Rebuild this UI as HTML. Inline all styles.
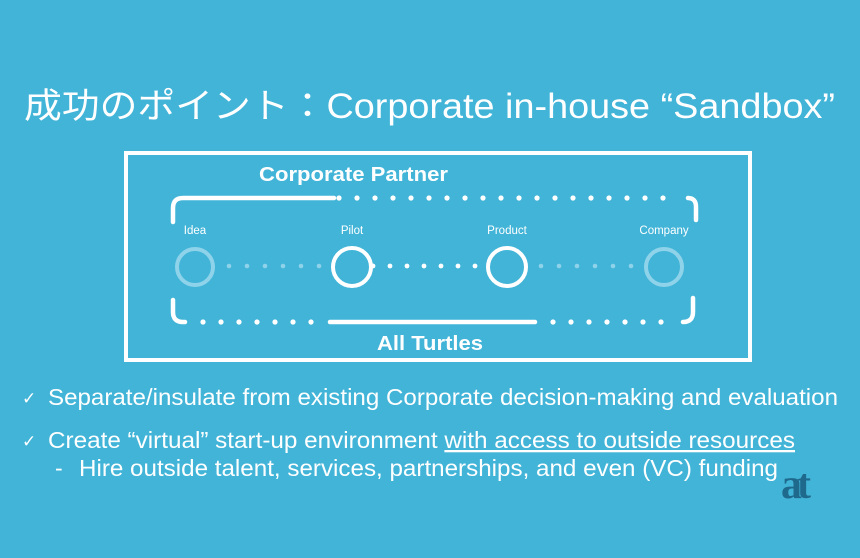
<!DOCTYPE html>
<html><head><meta charset="utf-8"><style>
html,body{margin:0;padding:0;background:#41b4d8;}
svg{display:block}
</style></head><body>
<svg width="860" height="558" viewBox="0 0 860 558" xmlns="http://www.w3.org/2000/svg">
<rect width="860" height="558" fill="#41b4d8"/>
<text x="24" y="118" fill="#fff" font-family="Liberation Sans, Noto Sans CJK JP, sans-serif" font-size="35" textLength="811" lengthAdjust="spacingAndGlyphs">成功のポイント：Corporate in-house “Sandbox”</text>
<rect x="126" y="153" width="624" height="207" fill="none" stroke="#fff" stroke-width="4"/>
<text x="259" y="181" fill="#fff" font-family="Liberation Sans, sans-serif" font-size="20" font-weight="bold" textLength="189" lengthAdjust="spacingAndGlyphs">Corporate Partner</text>
<text x="377" y="350" fill="#fff" font-family="Liberation Sans, sans-serif" font-size="20" font-weight="bold" textLength="106" lengthAdjust="spacingAndGlyphs">All Turtles</text>
<g fill="none" stroke="#fff" stroke-width="4.5" stroke-linecap="round">
<path d="M173 222 V208 Q173 198 183 198 H334"/>
<path d="M173 300 V312 Q173 322 183 322 H185"/>
<path d="M330 322 H535"/>
<path d="M696 220 V207 Q696 198 688 198"/>
<path d="M693 298 V312 Q693 322 683 322"/>
</g>
<g fill="#fff">
<circle cx="339" cy="198" r="2.6"/><circle cx="357" cy="198" r="2.6"/><circle cx="375" cy="198" r="2.6"/><circle cx="393" cy="198" r="2.6"/><circle cx="411" cy="198" r="2.6"/><circle cx="429" cy="198" r="2.6"/><circle cx="447" cy="198" r="2.6"/><circle cx="465" cy="198" r="2.6"/><circle cx="483" cy="198" r="2.6"/><circle cx="501" cy="198" r="2.6"/><circle cx="519" cy="198" r="2.6"/><circle cx="537" cy="198" r="2.6"/><circle cx="555" cy="198" r="2.6"/><circle cx="573" cy="198" r="2.6"/><circle cx="591" cy="198" r="2.6"/><circle cx="609" cy="198" r="2.6"/><circle cx="627" cy="198" r="2.6"/><circle cx="645" cy="198" r="2.6"/><circle cx="663" cy="198" r="2.6"/>
<circle cx="203" cy="322" r="2.6"/><circle cx="221" cy="322" r="2.6"/><circle cx="239" cy="322" r="2.6"/><circle cx="257" cy="322" r="2.6"/><circle cx="275" cy="322" r="2.6"/><circle cx="293" cy="322" r="2.6"/><circle cx="311" cy="322" r="2.6"/>
<circle cx="553" cy="322" r="2.6"/><circle cx="571" cy="322" r="2.6"/><circle cx="589" cy="322" r="2.6"/><circle cx="607" cy="322" r="2.6"/><circle cx="625" cy="322" r="2.6"/><circle cx="643" cy="322" r="2.6"/><circle cx="661" cy="322" r="2.6"/>
<circle cx="373" cy="266" r="2.4"/><circle cx="390" cy="266" r="2.4"/><circle cx="407" cy="266" r="2.4"/><circle cx="424" cy="266" r="2.4"/><circle cx="441" cy="266" r="2.4"/><circle cx="458" cy="266" r="2.4"/><circle cx="475" cy="266" r="2.4"/>
</g>
<g fill="#8fd3ea">
<circle cx="229" cy="266" r="2.3"/><circle cx="247" cy="266" r="2.3"/><circle cx="265" cy="266" r="2.3"/><circle cx="283" cy="266" r="2.3"/><circle cx="301" cy="266" r="2.3"/><circle cx="319" cy="266" r="2.3"/>
<circle cx="541" cy="266" r="2.3"/><circle cx="559" cy="266" r="2.3"/><circle cx="577" cy="266" r="2.3"/><circle cx="595" cy="266" r="2.3"/><circle cx="613" cy="266" r="2.3"/><circle cx="631" cy="266" r="2.3"/>
</g>
<g fill="none" stroke-width="4">
<circle cx="195" cy="267" r="18" stroke="#8fd3ea"/>
<circle cx="352" cy="267" r="19" stroke="#fff"/>
<circle cx="507" cy="267" r="19" stroke="#fff"/>
<circle cx="664" cy="267" r="18" stroke="#8fd3ea"/>
</g>
<g fill="#fff" font-family="Liberation Sans, sans-serif" font-size="11.5" text-anchor="middle">
<text x="195" y="234">Idea</text><text x="352" y="234">Pilot</text><text x="507" y="234">Product</text><text x="664" y="234">Company</text>
</g>
<g fill="#fff" font-family="Liberation Sans, DejaVu Sans, sans-serif" font-size="23">
<text x="22" y="404" font-size="17">✓</text>
<text x="48" y="405" textLength="790" lengthAdjust="spacingAndGlyphs">Separate/insulate from existing Corporate decision-making and evaluation</text>
<text x="22" y="447" font-size="17">✓</text>
<text x="48" y="448" textLength="747" lengthAdjust="spacingAndGlyphs">Create “virtual” start-up environment <tspan text-decoration="underline">with access to outside resources</tspan></text>
<text x="55" y="476">-</text>
<text x="79" y="476" textLength="699" lengthAdjust="spacingAndGlyphs">Hire outside talent, services, partnerships, and even (VC) funding</text>
</g>
<text x="781" y="498" fill="#1f6a8c" font-family="Liberation Serif, serif" font-size="42" font-weight="bold" letter-spacing="-5">at</text>
</svg>
</body></html>
